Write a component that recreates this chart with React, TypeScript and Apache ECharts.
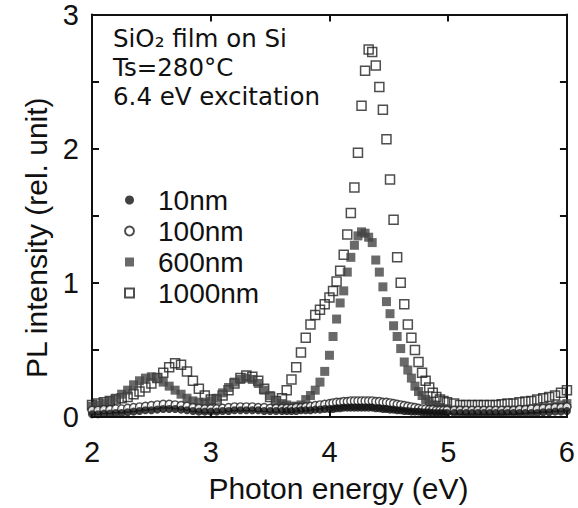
import React, { useEffect, useRef } from "react";
import * as echarts from "echarts";

// Photon energy grid (eV), shared by all four film thicknesses
const energy = [
  2.0, 2.05, 2.1, 2.15, 2.2, 2.25, 2.3, 2.35, 2.4, 2.45,
  2.5, 2.55, 2.6, 2.65, 2.7, 2.75, 2.8, 2.85, 2.9, 2.95,
  3.0, 3.05, 3.1, 3.15, 3.2, 3.25, 3.3, 3.35, 3.4, 3.45,
  3.5, 3.55,
  3.6, 3.64, 3.68, 3.72, 3.76, 3.8, 3.84, 3.88, 3.92, 3.96, 4.0,
  4.03, 4.06, 4.09, 4.12, 4.15, 4.18, 4.21, 4.24, 4.27, 4.3,
  4.33, 4.36, 4.39, 4.42, 4.45, 4.48, 4.51, 4.54, 4.57, 4.6,
  4.63, 4.66, 4.69, 4.72, 4.75, 4.78, 4.81, 4.84, 4.87, 4.9,
  4.93, 4.96, 4.99,
  5.05, 5.1, 5.15, 5.2, 5.25, 5.3, 5.35, 5.4, 5.45, 5.5,
  5.55, 5.6, 5.65, 5.7, 5.75, 5.8, 5.85, 5.9, 5.95, 6.0,
];

// PL intensity (rel. unit) for each film thickness
const pl10nm = [
  0.02, 0.02, 0.025, 0.025, 0.03, 0.03, 0.035, 0.04, 0.045, 0.05,
  0.05, 0.055, 0.06, 0.06, 0.06, 0.055, 0.05, 0.045, 0.04, 0.04,
  0.04, 0.04, 0.045, 0.045, 0.05, 0.05, 0.05, 0.05, 0.05, 0.045,
  0.045, 0.045,
  0.045, 0.045, 0.045, 0.045, 0.05, 0.05, 0.05, 0.055, 0.055, 0.06, 0.06,
  0.06, 0.065, 0.065, 0.07, 0.07, 0.07, 0.07, 0.07, 0.07, 0.07,
  0.07, 0.07, 0.065, 0.065, 0.06, 0.06, 0.055, 0.055, 0.05, 0.05,
  0.045, 0.045, 0.04, 0.04, 0.04, 0.035, 0.035, 0.035, 0.03, 0.03,
  0.03, 0.03, 0.03,
  0.03, 0.03, 0.03, 0.03, 0.03, 0.03, 0.03, 0.03, 0.03, 0.03,
  0.03, 0.03, 0.03, 0.03, 0.03, 0.035, 0.035, 0.04, 0.04, 0.045,
];

const pl100nm = [
  0.05, 0.05, 0.055, 0.055, 0.06, 0.06, 0.065, 0.07, 0.075, 0.08,
  0.085, 0.09, 0.095, 0.095, 0.09, 0.085, 0.08, 0.07, 0.065, 0.06,
  0.06, 0.06, 0.065, 0.07, 0.075, 0.075, 0.075, 0.075, 0.07, 0.07,
  0.065, 0.065,
  0.065, 0.065, 0.065, 0.07, 0.07, 0.075, 0.08, 0.085, 0.09, 0.095, 0.1,
  0.105, 0.11, 0.11, 0.115, 0.115, 0.12, 0.12, 0.12, 0.12, 0.12,
  0.12, 0.12, 0.115, 0.115, 0.11, 0.11, 0.105, 0.1, 0.095, 0.09,
  0.085, 0.08, 0.075, 0.07, 0.065, 0.06, 0.06, 0.055, 0.055, 0.05,
  0.05, 0.05, 0.05,
  0.05, 0.05, 0.05, 0.05, 0.05, 0.05, 0.05, 0.05, 0.05, 0.05,
  0.05, 0.055, 0.055, 0.06, 0.06, 0.065, 0.065, 0.07, 0.07, 0.075,
];

const pl600nm = [
  0.08, 0.09, 0.1, 0.12, 0.14, 0.17, 0.2, 0.24, 0.27, 0.29,
  0.3, 0.29, 0.26, 0.23, 0.2, 0.17, 0.14, 0.12, 0.11, 0.11,
  0.12, 0.14, 0.18, 0.22, 0.26, 0.28, 0.29, 0.28, 0.25, 0.2,
  0.16, 0.12,
  0.1, 0.09, 0.08, 0.08, 0.09, 0.13, 0.16, 0.2, 0.26, 0.34, 0.46,
  0.6, 0.73, 0.85, 0.94, 1.08, 1.19, 1.28, 1.35, 1.38, 1.37,
  1.34, 1.3, 1.17, 1.08, 0.97, 0.86, 0.77, 0.68, 0.6, 0.51,
  0.41, 0.35, 0.29, 0.23, 0.19, 0.16, 0.13, 0.11, 0.09, 0.08,
  0.07, 0.06, 0.06,
  0.05, 0.05, 0.045, 0.045, 0.045, 0.045, 0.045, 0.045, 0.045, 0.05,
  0.05, 0.05, 0.055, 0.06, 0.06, 0.065, 0.07, 0.08, 0.09, 0.1,
];

const pl1000nm = [
  0.09, 0.1, 0.11, 0.12, 0.13, 0.14, 0.15, 0.17, 0.19, 0.22,
  0.25, 0.29, 0.33, 0.37, 0.4, 0.39, 0.34, 0.27, 0.21, 0.16,
  0.13, 0.13, 0.16, 0.2, 0.25, 0.29, 0.31, 0.3, 0.27, 0.21,
  0.15, 0.12,
  0.14, 0.2, 0.28, 0.37, 0.48, 0.59, 0.69, 0.76, 0.8, 0.84, 0.89,
  0.94, 1.01, 1.09, 1.21, 1.36, 1.52, 1.71, 1.97, 2.32, 2.58,
  2.74, 2.72, 2.62, 2.46, 2.29, 2.07, 1.77, 1.47, 1.19, 1.0,
  0.84, 0.69, 0.59, 0.5, 0.41, 0.33, 0.27, 0.22, 0.18, 0.15,
  0.13, 0.12, 0.11,
  0.1, 0.09, 0.09, 0.09, 0.09, 0.09, 0.09, 0.09, 0.095, 0.1,
  0.1, 0.11, 0.115, 0.12, 0.13, 0.14, 0.15, 0.16, 0.18, 0.2,
];

const thicknesses = ["10nm", "100nm", "600nm", "1000nm"];
const xTicks = [2, 3, 4, 5, 6];
const yTicks = [0, 1, 2, 3];
const noteLines = ["SiO\u2082 film on Si", "Ts=280\u00b0C", "6.4 eV excitation"];

const FONT = '"Liberation Sans", Arial, Helvetica, sans-serif';
const NOTE_FONT = '"DejaVu Sans", "Liberation Sans", sans-serif';
const INK = "#111";

const pairs = (ys: number[]) => energy.map((e, i) => [e, ys[i]]);

export default function App() {
  const ref = useRef<HTMLDivElement>(null);

  useEffect(() => {
    const chart = echarts.init(ref.current!, null, { renderer: "svg" });

    const frame = { show: true, onZero: false, lineStyle: { color: INK, width: 2 } };
    const tick = { show: true, inside: true, length: 7, lineStyle: { color: INK, width: 2 } };
    const minor = { show: true, splitNumber: 2, length: 7, lineStyle: { color: INK, width: 2 } };
    const labelFont = { fontFamily: FONT, fontSize: 28, color: INK };
    const xRange = { min: xTicks[0], max: xTicks[xTicks.length - 1], interval: xTicks[1] - xTicks[0] };
    const yRange = { min: yTicks[0], max: yTicks[yTicks.length - 1], interval: yTicks[1] - yTicks[0] };

    // three-line note in the upper-left corner of the plot
    const noteTop = 26;
    const noteStep = 29;
    const notes = noteLines.map((line, i) => ({
      type: "text",
      left: 113,
      top: noteTop + i * noteStep,
      style: { text: line, fontFamily: NOTE_FONT, fontSize: 24.5, fill: INK },
    }));

    chart.setOption({
      animation: false,
      backgroundColor: "#fff",
      grid: { left: 92, right: 3, top: 13, bottom: 86 },
      xAxis: [
        {
          type: "value",
          position: "bottom",
          ...xRange,
          name: "Photon energy (eV)",
          nameLocation: "middle",
          nameGap: 56,
          nameTextStyle: { ...labelFont, fontSize: 30, padding: [0, 0, 0, 18] },
          axisLine: frame,
          axisTick: tick,
          axisLabel: { ...labelFont, fontSize: 29, margin: 20 },
          splitLine: { show: false },
        },
        {
          type: "value",
          position: "top",
          ...xRange,
          axisLine: frame,
          axisTick: tick,
          axisLabel: { show: false },
          splitLine: { show: false },
        },
      ],
      yAxis: [
        {
          type: "value",
          position: "left",
          ...yRange,
          name: "PL intensity (rel. unit)",
          nameLocation: "middle",
          nameGap: 38,
          nameRotate: 90,
          nameTextStyle: { ...labelFont, fontSize: 30, padding: [0, 44, 0, 0] },
          axisLine: frame,
          axisTick: tick,
          minorTick: minor,
          axisLabel: { ...labelFont, fontSize: 29, margin: 13 },
          splitLine: { show: false },
        },
        {
          type: "value",
          position: "right",
          ...yRange,
          axisLine: frame,
          axisTick: tick,
          minorTick: minor,
          axisLabel: { show: false },
          splitLine: { show: false },
        },
      ],
      legend: {
        orient: "vertical",
        left: 124,
        top: 186,
        padding: 0,
        itemGap: 3,
        itemWidth: 9,
        itemHeight: 9,
        selectedMode: false,
        data: thicknesses,
        textStyle: { ...labelFont, lineHeight: 28, padding: [0, 0, 0, 19] },
      },
      graphic: notes,
      series: [
        {
          name: "1000nm",
          type: "scatter",
          symbol: "rect",
          symbolSize: 9,
          data: pairs(pl1000nm),
          itemStyle: { color: "rgba(255,255,255,0)", borderColor: "#222", borderWidth: 1.5 },
          z: 2,
        },
        {
          name: "600nm",
          type: "scatter",
          symbol: "rect",
          symbolSize: 9,
          data: pairs(pl600nm),
          itemStyle: { color: "#444" },
          z: 3,
        },
        {
          name: "100nm",
          type: "scatter",
          symbol: "circle",
          symbolSize: 8,
          data: pairs(pl100nm),
          itemStyle: { color: "#fff", borderColor: "#222", borderWidth: 1.4 },
          z: 4,
        },
        {
          name: "10nm",
          type: "scatter",
          symbol: "circle",
          symbolSize: 8,
          data: pairs(pl10nm),
          itemStyle: { color: "#111" },
          z: 5,
        },
      ],
    });

    return () => chart.dispose();
  }, []);

  return (
    <div
      ref={ref}
      style={{ position: "fixed", left: 0, top: 0, width: 578, height: 508 }}
    />
  );
}
